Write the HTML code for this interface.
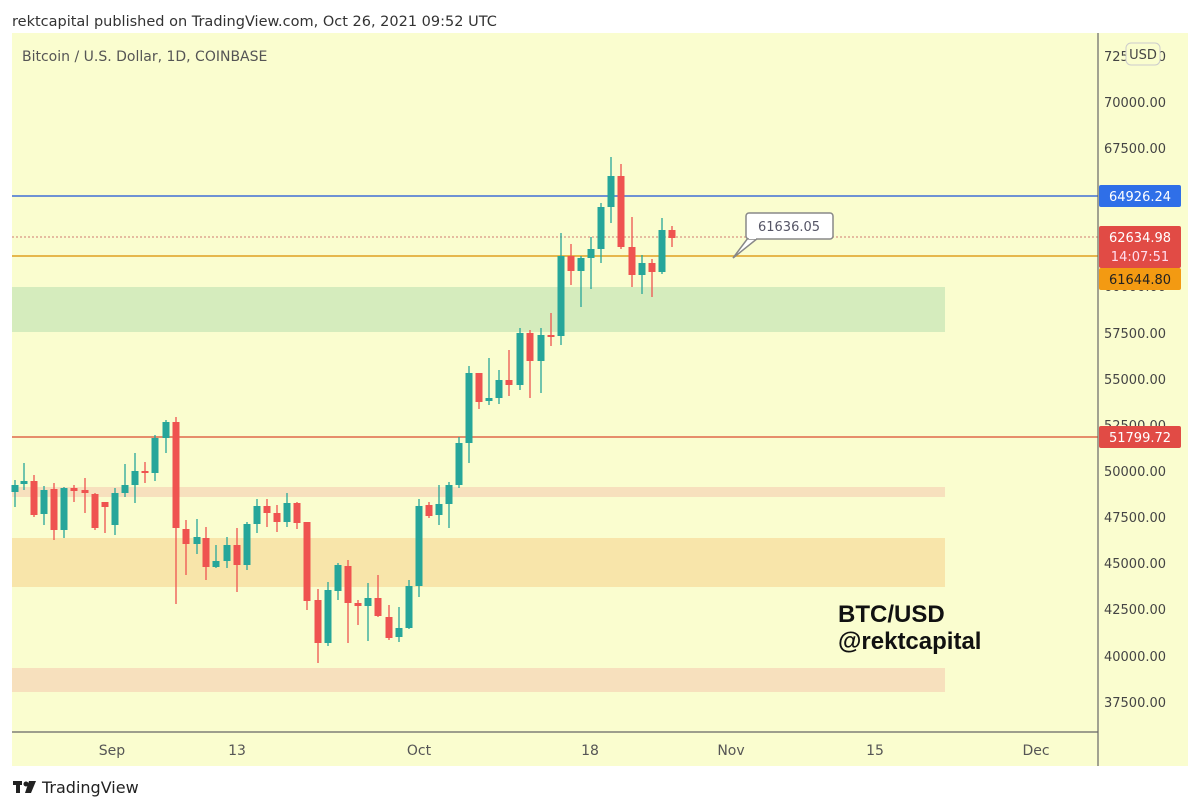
<!DOCTYPE html>
<html><head><meta charset="utf-8"><style>
body{margin:0;background:#fff;width:1200px;height:811px;overflow:hidden;font-family:"DejaVu Sans","Liberation Sans",sans-serif}
svg{position:absolute;left:0;top:0}
</style></head><body>
<svg id="s" width="1200" height="811" xmlns="http://www.w3.org/2000/svg">
<text x="12" y="26" font-size="14.5" fill="#333">rektcapital published on TradingView.com, Oct 26, 2021 09:52 UTC</text>
<rect x="12" y="33" width="1176" height="733" fill="#fafdcf"/>
<rect x="12" y="287" width="933" height="45" fill="#d5ecbd"/>
<rect x="12" y="487" width="933" height="10" fill="#f7e0bd"/>
<rect x="12" y="538" width="933" height="49" fill="#f8e5aa"/>
<rect x="12" y="668" width="933" height="24" fill="#f7e0bd"/>
<line x1="12" y1="196" x2="1098" y2="196" stroke="#3f6fd6" stroke-width="1.5"/>
<line x1="12" y1="437" x2="1098" y2="437" stroke="#e0684a" stroke-width="1.5"/>
<line x1="12" y1="256" x2="1098" y2="256" stroke="#e0a020" stroke-width="1.5"/>
<line x1="12" y1="237" x2="1098" y2="237" stroke="#d07a70" stroke-width="1" stroke-dasharray="2,2"/>
<line x1="12" y1="732" x2="1098" y2="732" stroke="#666" stroke-width="1.2"/>
<line x1="1098" y1="33" x2="1098" y2="766" stroke="#666" stroke-width="1.2"/>
<text x="22" y="61" font-size="14" fill="#555">Bitcoin / U.S. Dollar, 1D, COINBASE</text>
<g id="c"></g>
<polygon points="733,258 748,238 758,238" fill="#fff" stroke="#888" stroke-width="1.5"/>
<rect x="746" y="213" width="87" height="26" rx="3" fill="#fff" stroke="#888" stroke-width="1.5"/>
<line x1="749" y1="238" x2="756" y2="238" stroke="#fff" stroke-width="2"/>
<text x="789" y="231" font-size="13" fill="#556" text-anchor="middle">61636.05</text>
<g font-size="13" fill="#444" text-anchor="middle">
<text x="1135" y="61">72500.00</text>
<text x="1135" y="107">70000.00</text>
<text x="1135" y="153">67500.00</text>
<text x="1135" y="291">60000.00</text>
<text x="1135" y="338">57500.00</text>
<text x="1135" y="384">55000.00</text>
<text x="1135" y="430">52500.00</text>
<text x="1135" y="476">50000.00</text>
<text x="1135" y="522">47500.00</text>
<text x="1135" y="568">45000.00</text>
<text x="1135" y="614">42500.00</text>
<text x="1135" y="661">40000.00</text>
<text x="1135" y="707">37500.00</text>
</g>
<rect x="1126" y="43" width="34" height="22" rx="5" fill="#fafdcf" stroke="#ccc"/>
<text x="1143" y="59" font-size="13" fill="#444" text-anchor="middle">USD</text>
<rect x="1099" y="185" width="82" height="22" rx="2" fill="#2f6fe8"/>
<text x="1140" y="201" font-size="13" fill="#fff" text-anchor="middle">64926.24</text>
<rect x="1099" y="226" width="82" height="42" rx="2" fill="#e14b45"/>
<text x="1140" y="242" font-size="13" fill="#fff" text-anchor="middle">62634.98</text>
<text x="1140" y="261" font-size="13" fill="#fde" text-anchor="middle">14:07:51</text>
<rect x="1099" y="268" width="82" height="22" rx="2" fill="#f39a12"/>
<text x="1140" y="284" font-size="13" fill="#222" text-anchor="middle">61644.80</text>
<rect x="1099" y="426" width="82" height="22" rx="2" fill="#e14b45"/>
<text x="1140" y="442" font-size="13" fill="#fff" text-anchor="middle">51799.72</text>
<g font-size="14" fill="#555" text-anchor="middle">
<text x="112" y="755">Sep</text><text x="237" y="755">13</text><text x="419" y="755">Oct</text>
<text x="590" y="755">18</text><text x="731" y="755">Nov</text><text x="875" y="755">15</text><text x="1036" y="755">Dec</text>
</g>
<text x="838" y="622" font-size="24" font-weight="bold" fill="#111" font-family="Liberation Sans,sans-serif">BTC/USD</text>
<text x="838" y="649" font-size="24" font-weight="bold" fill="#111" font-family="Liberation Sans,sans-serif">@rektcapital</text>
<g fill="#222"><rect x="13" y="781" width="9" height="4"/><rect x="16" y="781" width="4" height="12"/><circle cx="26" cy="784" r="2.5"/><polygon points="29,781 36,781 31,793 25,793"/></g>
<text x="42" y="793" font-size="16" fill="#222">TradingView</text>
</svg>
<script>
const d=[[15,492,485,480,507],[24,484,481,463,490],[34,481,515,475,517],[44,514,490,486,525],[54,489,530,483,540],[64,530,488,487,538],[74,488,491,485,502],[85,490,493,478,513],[95,494,528,493,530],[105,502,507,504,533],[115,525,493,488,535],[125,493,485,464,497],[135,485,471,453,503],[145,471,473,462,483],[155,473,438,435,481],[166,438,422,420,453],[176,422,528,417,604],[186,529,544,520,575],[197,544,537,519,554],[206,538,567,527,580],[216,567,561,545,568],[227,561,545,537,568],[237,545,565,528,592],[247,565,524,522,570],[257,524,506,499,533],[267,506,513,499,527],[277,513,522,505,532],[287,522,503,493,527],[297,503,523,502,529],[307,522,601,522,610],[318,600,643,589,663],[328,643,590,582,646],[338,591,565,563,600],[348,566,603,560,643],[358,603,606,600,625],[368,606,598,583,641],[378,598,616,575,617],[389,617,638,605,640],[399,637,628,607,642],[409,628,586,580,629],[419,586,506,499,597],[429,505,516,502,518],[439,515,504,485,525],[449,504,485,482,528],[459,485,443,437,488],[469,443,373,366,463],[479,373,402,373,409],[489,401,398,358,405],[499,398,380,370,404],[509,380,385,350,396],[520,385,333,328,390],[530,333,361,330,398],[541,361,335,328,393],[551,335,337,313,346],[561,336,256,233,345],[571,256,271,244,285],[581,271,258,256,307],[591,258,249,237,289],[601,249,207,203,263],[611,207,176,157,223],[621,176,247,164,249],[632,247,275,217,287],[642,275,263,255,294],[652,263,272,259,297],[662,272,230,218,274],[672,230,238,226,247]];
let h='';for(const [x,o,c,hi,lo] of d){const col=c<o?'#26a69a':'#ef5350';const t=Math.min(o,c),b=Math.max(Math.max(o,c)-t,2);
h+=`<line x1="${x}" y1="${hi}" x2="${x}" y2="${lo}" stroke="${col}" stroke-width="1.3"/><rect x="${x-3.5}" y="${t}" width="7" height="${b}" fill="${col}"/>`;}
document.getElementById('c').innerHTML=h;
</script>
</body></html>
